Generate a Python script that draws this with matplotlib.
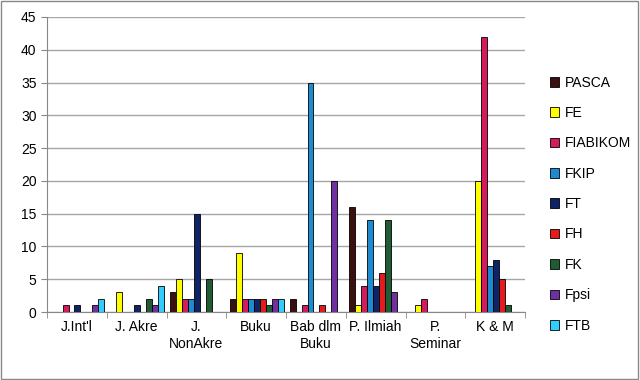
import numpy as np
import matplotlib.pyplot as plt
from matplotlib.patches import Patch

categories = ["J.Int'l", "J. Akre", "J.\nNonAkre", "Buku", "Bab dlm\nBuku",
              "P. Ilmiah", "P.\nSeminar", "K & M"]
faculties = ["PASCA", "FE", "FIABIKOM", "FKIP", "FT", "FH", "FK", "Fpsi", "FTB"]
colors = ["#3a1010", "#ffff00", "#d41c5c", "#1e8bd1", "#0f2466",
          "#e31b1b", "#1f5c34", "#7030a0", "#33ccff"]

pasca    = [0, 0, 3, 2, 2, 16, 0, 0]
fe       = [0, 3, 5, 9, 0, 1, 1, 20]
fiabikom = [1, 0, 2, 2, 1, 4, 2, 42]
fkip     = [0, 0, 2, 2, 35, 14, 0, 7]
ft       = [1, 1, 15, 2, 0, 4, 0, 8]
fh       = [0, 0, 0, 2, 1, 6, 0, 5]
fk       = [0, 2, 5, 1, 0, 14, 0, 1]
fpsi     = [1, 1, 0, 2, 20, 3, 0, 0]
ftb      = [2, 4, 0, 2, 0, 0, 0, 0]
series = [pasca, fe, fiabikom, fkip, ft, fh, fk, fpsi, ftb]

plt.rcParams['font.family'] = ['Liberation Sans', 'DejaVu Sans']

fig = plt.figure(figsize=(6.4, 3.8), dpi=100)
ax = fig.add_axes([47 / 640, 68 / 380, 478 / 640, 295 / 380])

x = np.arange(len(categories))
w = 0.1
for i, (vals, c) in enumerate(zip(series, colors)):
    ax.bar(x - 0.45 + w * (i + 0.5) + 0.01, vals, w, color=c,
           edgecolor="black", linewidth=0.6, zorder=3)

ax.set_xlim(-0.5, len(categories) - 0.5)
ax.set_ylim(0, 45)
ax.set_yticks(range(0, 46, 5))
ax.yaxis.grid(True, color="#a6a6a6", linewidth=1)
ax.set_axisbelow(True)
ax.set_xticks(x)
ax.set_xticklabels(categories, fontsize=10)
ax.set_xticks(np.arange(len(categories) + 1) - 0.5, minor=True)
ax.tick_params(axis="x", which="major", length=0, pad=6)
ax.tick_params(axis="x", which="minor", length=4, color="#888888")
ax.tick_params(axis="y", length=4, color="#888888", labelsize=10)
for s in ["top", "right"]:
    ax.spines[s].set_visible(False)
ax.spines["left"].set_color("#888888")
ax.spines["bottom"].set_color("#888888")

handles = [Patch(facecolor=c, edgecolor="black", linewidth=0.6) for c in colors]
fig.legend(handles, faculties, loc="upper left", bbox_to_anchor=(544 / 640, 1 - 70 / 380),
           frameon=False, fontsize=10, handlelength=0.7, handleheight=0.7,
           handletextpad=0.4, labelspacing=1.18, borderaxespad=0)

fig.add_artist(plt.Rectangle((0.002, 0.003), 0.995, 0.994, transform=fig.transFigure,
                             fill=False, edgecolor="#888888", linewidth=1))

fig.savefig("out.png", dpi=100)
